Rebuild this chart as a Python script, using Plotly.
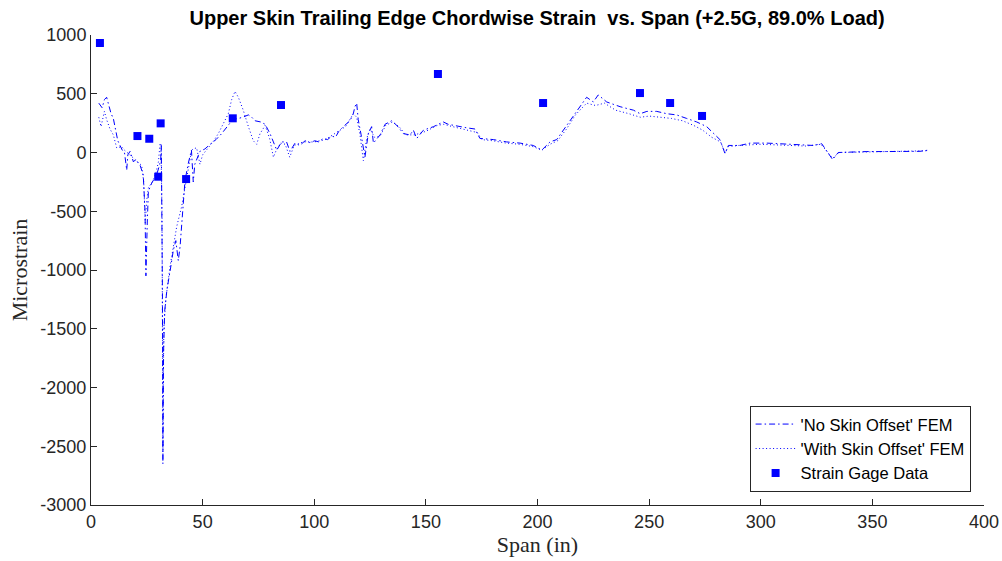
import plotly.graph_objects as go

# FEM prediction, no skin offset (span in inches, microstrain)
span_no_offset = [3.5, 5.0, 6.0, 7.0, 8.0, 9.0, 10.0, 11.0, 12.0, 13.0, 14.0, 15.0, 16.0, 16.5,
                  17.5, 19.0, 20.0, 22.0, 23.4, 24.2, 24.6, 25.2, 25.7, 27.2, 29.4, 30.5, 31.2,
                  31.5, 32.0, 32.2, 32.5, 33.0, 34.0, 35.5, 36.9, 38.0, 39.1, 39.9, 41.3, 42.1,
                  43.6, 44.3, 45.0, 45.8, 46.5, 48.8, 51.0, 54.0, 56.0, 58.5, 61.5, 63.5, 66.0,
                  68.0, 70.5, 72.0, 73.5, 76.0, 78.0, 80.2, 81.7, 83.2, 85.4, 87.6, 89.1, 91.4,
                  93.5, 95.9, 98.0, 100.3, 102.0, 104.0, 106.0, 107.8, 109.5, 111.0, 113.0, 116.0,
                  117.5, 118.2, 119.0, 119.7, 121.0, 122.0, 122.7, 124.2, 125.7, 126.5, 128.0,
                  129.5, 131.7, 134.7, 137.0, 140.0, 142.9, 144.4, 145.9, 148.9, 153.4, 157.8,
                  160.0, 162.3, 165.0, 168.3, 172.0, 174.2, 180.2, 186.2, 192.2, 198.1, 201.9,
                  205.6, 208.6, 213.1, 217.6, 219.0, 222.0, 225.0, 227.2, 231.0, 237.0, 243.0,
                  246.0, 249.0, 253.4, 257.9, 262.3, 266.8, 271.3, 275.8, 278.8, 281.7, 284.0,
                  285.5, 290.7, 295.2, 302.7, 311.6, 317.6, 323.6, 327.3, 329.5, 332.2, 334.7,
                  340.0, 347.5, 356.4, 365.4, 371.3, 375.0]
strain_no_offset = [420, 380, 450, 470, 400, 330, 290, 200, 100, 60, 20, 0, -150, -20,
                    10, -80, -60, -110, -190, -500, -1050, -600, -330, -260, -190, -120, -70,
                    60, -1200, -2650, -1700, -1350, -1170, -1000, -830, -750, -920, -800, -400, -240,
                    -90, -30, 20, -250, -100, 10, 30, 80, 110, 160, 230, 280, 290,
                    300, 320, 300, 270, 260, 240, 160, 90, 20, 90, 90, 10, 80,
                    60, 100, 85, 100, 90, 120, 110, 140, 130, 180, 220, 270,
                    330, 390, 420, 280, 150, 50, -40, 160, 220, 80, 120,
                    150, 240, 270, 230, 160, 150, 190, 120, 190, 220, 260,
                    240, 230, 220, 210, 200, 120, 110, 90, 80, 60, 20,
                    90, 110, 230, 360, 390, 470, 430, 490, 430, 390, 360,
                    330, 350, 350, 330, 320, 290, 260, 220, 160, 110, -10,
                    60, 60, 80, 80, 70, 65, 60, 75, 10, -60, 0,
                    5, 8, 8, 8, 10, 20]

# FEM prediction, with skin offset
span_with_offset = [3.5, 4.5, 6.0, 7.0, 8.5, 10.0, 11.5, 13.7, 15.0, 17.5, 19.0, 21.2, 22.7, 23.6,
                    24.3, 25.0, 25.7, 27.5, 29.0, 30.2, 30.9, 31.3, 31.8, 32.2, 32.6, 33.5, 35.4,
                    36.9, 38.4, 40.6, 42.5, 44.3, 45.1, 45.8, 47.3, 48.8, 50.0, 52.5, 55.0, 57.0,
                    59.0, 61.5, 63.0, 64.5, 66.0, 68.2, 70.5, 72.7, 74.2, 75.7, 78.0, 80.0, 81.7,
                    83.0, 85.0, 87.0, 89.0, 91.0, 95.0, 100.0, 105.0, 110.0, 114.0, 117.5, 119.0,
                    120.5, 122.0, 123.5, 125.0, 127.0, 129.5, 132.0, 135.0, 138.0, 141.0, 145.0,
                    150.0, 155.0, 158.0, 162.0, 168.0, 173.0, 175.0, 180.0, 186.0, 192.0, 198.0,
                    202.0, 205.6, 209.0, 213.0, 217.0, 222.0, 226.0, 230.0, 235.0, 241.0, 246.0,
                    250.0, 255.0, 260.0, 265.0, 270.0, 274.0, 278.0, 282.0, 284.0, 285.5, 290.0,
                    300.0, 310.0, 320.0, 327.0, 330.0, 332.2, 335.0, 345.0, 360.0, 375.0]
strain_with_offset = [300, 220, 350, 280, 200, 150, 40, 50, 20, -20, -50, -80, -110, -250,
                      -600, -400, -300, -250, -180, -80, 70, 80, -500, -2550, -1500, -1250, -970,
                      -800, -630, -460, -250, -60, 20, 30, 40, -100, -20, 40, 100, 160,
                      230, 330, 450, 520, 470, 360, 220, 100, 70, 160, 230, 120, -40,
                      20, 80, 70, -40, 60, 90, 90, 110, 170, 220, 330, 300,
                      150, -70, 120, 200, 130, 140, 230, 260, 220, 150, 150,
                      180, 230, 240, 220, 190, 170, 110, 100, 80, 70, 50,
                      20, 70, 100, 200, 320, 420, 400, 420, 360, 330, 300,
                      310, 300, 290, 270, 230, 190, 130, 90, 0, 50, 60,
                      70, 60, 55, 70, 0, -50, 0, 5, 8, 15]

# Strain gage measurements
gage_span = [4.0, 20.8, 26.1, 31.2, 30.1, 42.6, 63.5, 85.1, 155.4, 202.5, 245.9, 259.4, 273.7]
gage_strain = [932, 140, 117, 248, -206, -226, 291, 404, 668, 421, 506, 421, 311]

# Axis ticks
x_ticks = [0, 50, 100, 150, 200, 250, 300, 350, 400]
y_ticks = [-3000, -2500, -2000, -1500, -1000, -500, 0, 500, 1000]
y_tick_labels = ["-3000", "-2500", "-2000", "-1500", "-1000", "-500", "0", "500", "1000"]

blue = "#0000FF"
axis_color = "#262626"
sans = "Liberation Sans, Arial, sans-serif"
serif = "Liberation Serif, Times New Roman, serif"

fig = go.Figure()
fig.add_trace(go.Scatter(
    x=span_no_offset, y=strain_no_offset, mode="lines",
    name="'No Skin Offset' FEM",
    line=dict(color=blue, width=1, dash="6px,3px,1.5px,3px"),
))
fig.add_trace(go.Scatter(
    x=span_with_offset, y=strain_with_offset, mode="lines",
    name="'With Skin Offset' FEM",
    line=dict(color=blue, width=1, dash="1px,2.5px"),
))
fig.add_trace(go.Scatter(
    x=gage_span, y=gage_strain, mode="markers",
    name="Strain Gage Data",
    marker=dict(color=blue, symbol="square", size=8, line=dict(width=0)),
))

fig.update_layout(
    width=1002, height=561,
    margin=dict(l=91, r=18, t=35, b=56, autoexpand=False),
    paper_bgcolor="white", plot_bgcolor="white",
    font=dict(family=sans, size=16, color=axis_color),
    title=dict(
        text="<b>Upper Skin Trailing Edge Chordwise Strain  vs. Span (+2.5G, 89.0% Load)</b>",
        x=0.536, xanchor="center", y=0.968, yanchor="middle",
        font=dict(family=sans, size=20, color="black"),
    ),
    showlegend=True,
    legend=dict(
        x=0.985, y=0.028, xanchor="right", yanchor="bottom",
        bgcolor="white", bordercolor=axis_color, borderwidth=1,
        font=dict(family=sans, size=16.5, color="black"),
        tracegroupgap=0, itemwidth=40,
    ),
)

fig.update_xaxes(
    range=[0, 400], tickvals=x_ticks,
    showgrid=False, zeroline=False, automargin=False,
    showline=True, linecolor=axis_color, linewidth=1, mirror=False,
    ticks="inside", ticklen=6, tickcolor=axis_color,
    tickfont=dict(size=18, color=axis_color),
    title=dict(text="Span (in)", standoff=6,
               font=dict(family=serif, size=22, color=axis_color)),
)
fig.update_yaxes(
    range=[-3000, 1000], tickvals=y_ticks, ticktext=y_tick_labels,
    showgrid=False, zeroline=False, automargin=False,
    showline=True, linecolor=axis_color, linewidth=1, mirror=False,
    ticks="inside", ticklen=6, tickcolor=axis_color,
    tickfont=dict(size=18, color=axis_color),
    title=dict(text="Microstrain", standoff=6,
               font=dict(family=serif, size=22, color=axis_color)),
)

fig.write_html("out.html")
